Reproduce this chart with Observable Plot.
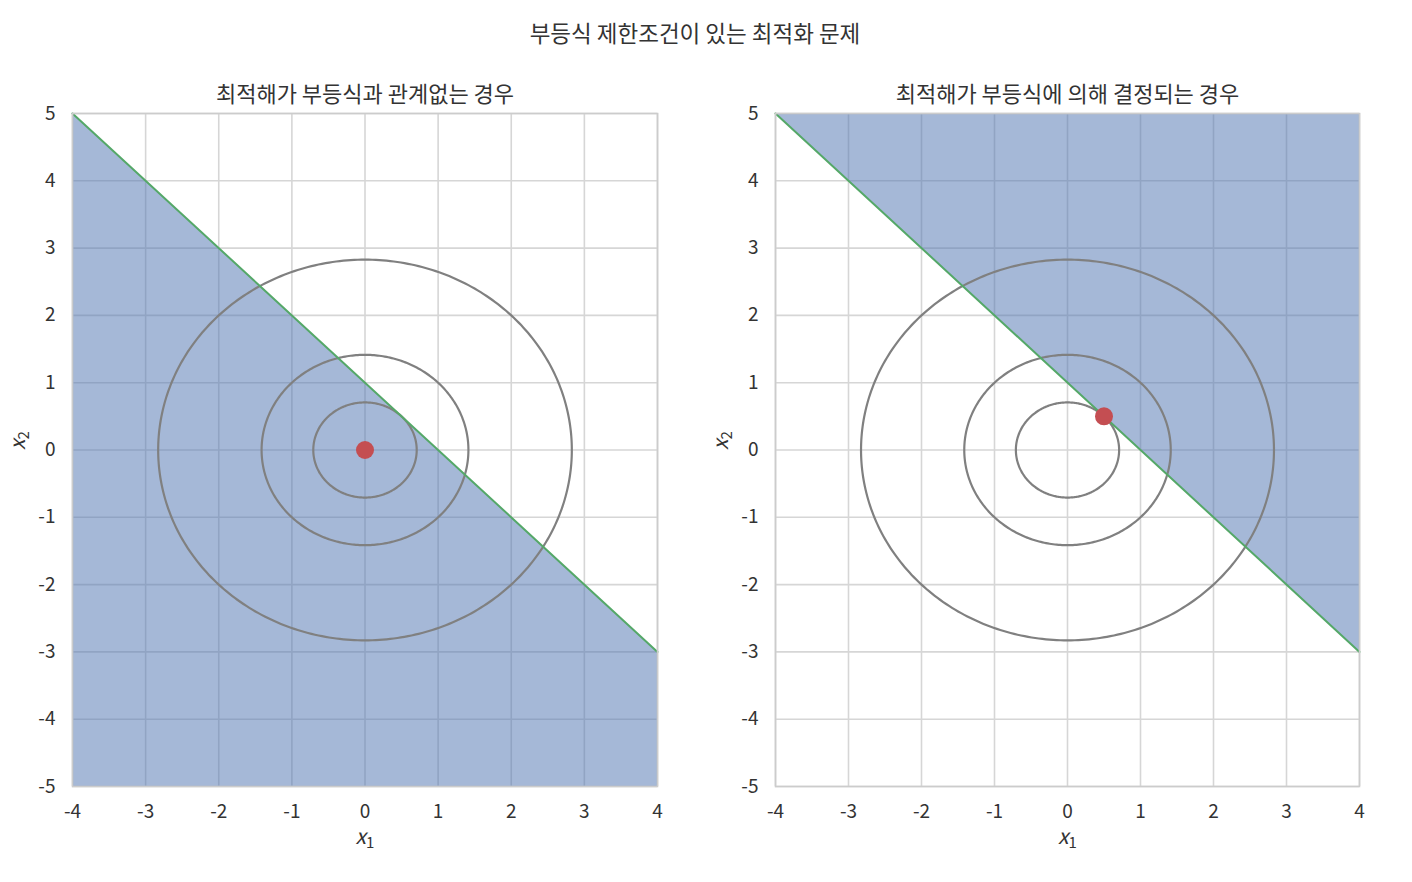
<!DOCTYPE html>
<html><head><meta charset="utf-8">
<script src="https://cdn.jsdelivr.net/npm/d3@7"></script>
<script src="https://cdn.jsdelivr.net/npm/@observablehq/plot@0.6"></script>
<style>
body{margin:0;background:#fff;font-family:"Noto Sans CJK KR","Noto Sans",sans-serif;}
#wrap{position:relative;width:1412px;height:882px;}
#title{position:absolute;left:0;width:1390px;top:16px;text-align:center;font-size:22.5px;color:#333;}
.panel{position:absolute;top:60px;}
</style></head>
<body>
<div id="wrap">
<div id="title">부등식 제한조건이 있는 최적화 문제</div>
<div class="panel" id="p1" style="left:0px"></div>
<div class="panel" id="p2" style="left:700px"></div>
</div>
<script>
const panelTitles = ["최적해가 부등식과 관계없는 경우", "최적해가 부등식에 의해 결정되는 경우"];
const xTicks = [-4,-3,-2,-1,0,1,2,3,4];
const yTicks = [-5,-4,-3,-2,-1,0,1,2,3,4,5];
const contourLevels = [0.5, 2, 8];          // x1^2 + x2^2 = level
const constraintX = [-4, 4];                // x1 + x2 = 1 line endpoints
const constraintC = 1;
const optimaX1 = [0, 0.5];
const optimaX2 = [0, 0.5];
const shadeSide = ["below", "above"];

function circlePts(level){
  const r = Math.sqrt(level), pts = [];
  for (let i = 0; i <= 360; i++){ const t = i*Math.PI/180; pts.push({x:r*Math.cos(t), y:r*Math.sin(t), level}); }
  return pts;
}
const contourData = contourLevels.flatMap(circlePts);
const lineData = constraintX.map(x => ({x, y: constraintC - x}));
const fmt = d => String(d);

function makePanel(i, width, ml, mr){
  const area = shadeSide[i] === "below"
    ? Plot.areaY(lineData, {x:"x", y1:"y", y2:-5, fill:"#4c72b0", fillOpacity:0.5})
    : Plot.areaY(lineData, {x:"x", y1:"y", y2:5, fill:"#4c72b0", fillOpacity:0.5});
  const svg = Plot.plot({
    width, height:800, marginLeft:ml, marginRight:mr, marginTop:53, marginBottom:74,
    x:{domain:[-4,4], label:null},
    y:{domain:[-5,5], label:null},
    style:{fontSize:"19px", fontFamily:'"Noto Sans CJK KR","Noto Sans",sans-serif', color:"#333", background:"#fff"},
    marks:[
      Plot.gridX(xTicks, {stroke:"#d6d6d6", strokeOpacity:1, strokeWidth:1.6}),
      Plot.gridY(yTicks, {stroke:"#d6d6d6", strokeOpacity:1, strokeWidth:1.6}),
      area,
      Plot.line(contourData, {x:"x", y:"y", z:"level", stroke:"#808080", strokeWidth:2.2}),
      Plot.line(lineData, {x:"x", y:"y", stroke:"#55a868", strokeWidth:2}),
      Plot.dot([{x:optimaX1[i], y:optimaX2[i]}], {x:"x", y:"y", r:9, fill:"#c44e52"}),
      Plot.frame({stroke:"#cccccc", strokeWidth:1.6}),
      Plot.axisX(xTicks, {tickSize:0, tickPadding:18, fontSize:19, fill:"#333", tickFormat:fmt, label:null}),
      Plot.axisY(yTicks, {tickSize:0, tickPadding:17, fontSize:19, fill:"#333", tickFormat:fmt, label:null}),
      Plot.text([panelTitles[i]], {frameAnchor:"top", lineAnchor:"middle", dy:-19, fontSize:22, fill:"#333"}),
      Plot.text(["x|1"], {frameAnchor:"bottom", lineAnchor:"middle", dy:51, fontSize:21, fill:"#333", className:"sublabel"}),
      Plot.text(["x|2"], {frameAnchor:"left", lineAnchor:"middle", dx:-54, rotate:-90, fontSize:21, fill:"#333", className:"sublabel"})
    ]
  });
  // render variable names with a real subscript
  svg.querySelectorAll(".sublabel text").forEach(t => {
    const [v, s] = t.textContent.split("|");
    t.textContent = "";
    const a = document.createElementNS("http://www.w3.org/2000/svg", "tspan");
    a.setAttribute("font-style", "italic"); a.textContent = v;
    const b = document.createElementNS("http://www.w3.org/2000/svg", "tspan");
    b.setAttribute("font-size", "15"); b.setAttribute("dy", "4"); b.textContent = s;
    t.appendChild(a); t.appendChild(b);
  });
  return svg;
}
document.getElementById("p1").appendChild(makePanel(0, 700, 72, 43));
document.getElementById("p2").appendChild(makePanel(1, 712, 75, 53));
</script>
</body></html>
